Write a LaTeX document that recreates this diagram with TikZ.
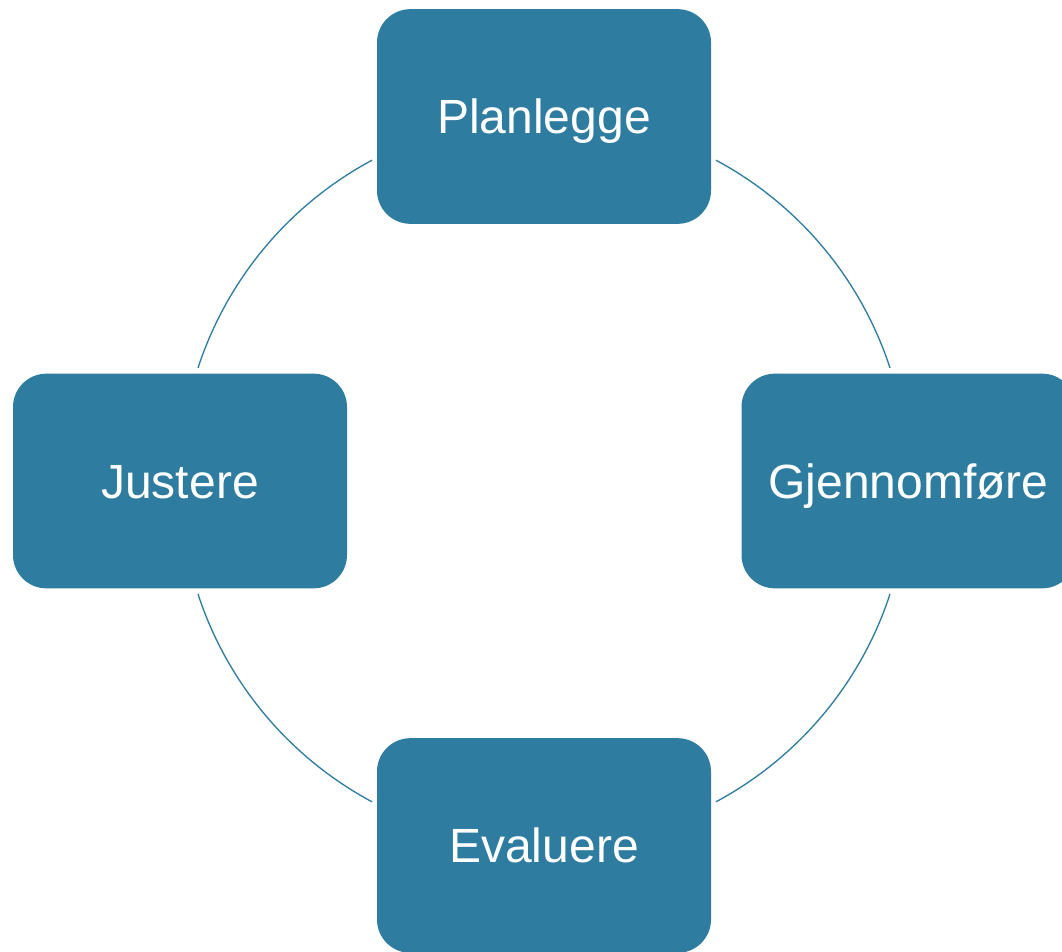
\documentclass[tikz,border=0pt]{standalone}
\usepackage{fontspec}
\setmainfont{Liberation Sans}
\definecolor{boxblue}{RGB}{46,124,160}
\begin{document}
\begin{tikzpicture}[x=0.75pt,y=0.75pt,
  stagebox/.style={fill=boxblue, draw=none, rounded corners=25pt,
    minimum width=250.5pt, minimum height=161pt, inner sep=0pt,
    text=white, font=\fontsize{36}{40}\selectfont,
    text height=25.8pt, text depth=0pt},
  ring/.style={draw=boxblue, line width=1pt}]
\clip (0,0) rectangle (1062,951);
\useasboundingbox (0,0) rectangle (1062,951);
\coordinate (c) at (544,470);
\node[stagebox] (plan) at (544,834.5) {Planlegge};
\node[stagebox] (gjen) at (908.5,470) {Gjennomføre};
\node[stagebox] (eval) at (544,105.5) {Evaluere};
\node[stagebox] (just) at (180,470) {Justere};
\draw[ring] (c) ++(61.8:364) arc[start angle=61.8, end angle=18.1, radius=364];
\draw[ring] (c) ++(-18.1:364) arc[start angle=-18.1, end angle=-61.8, radius=364];
\draw[ring] (c) ++(-118.2:364) arc[start angle=-118.2, end angle=-161.9, radius=364];
\draw[ring] (c) ++(161.9:364) arc[start angle=161.9, end angle=118.2, radius=364];
\end{tikzpicture}
\end{document}
